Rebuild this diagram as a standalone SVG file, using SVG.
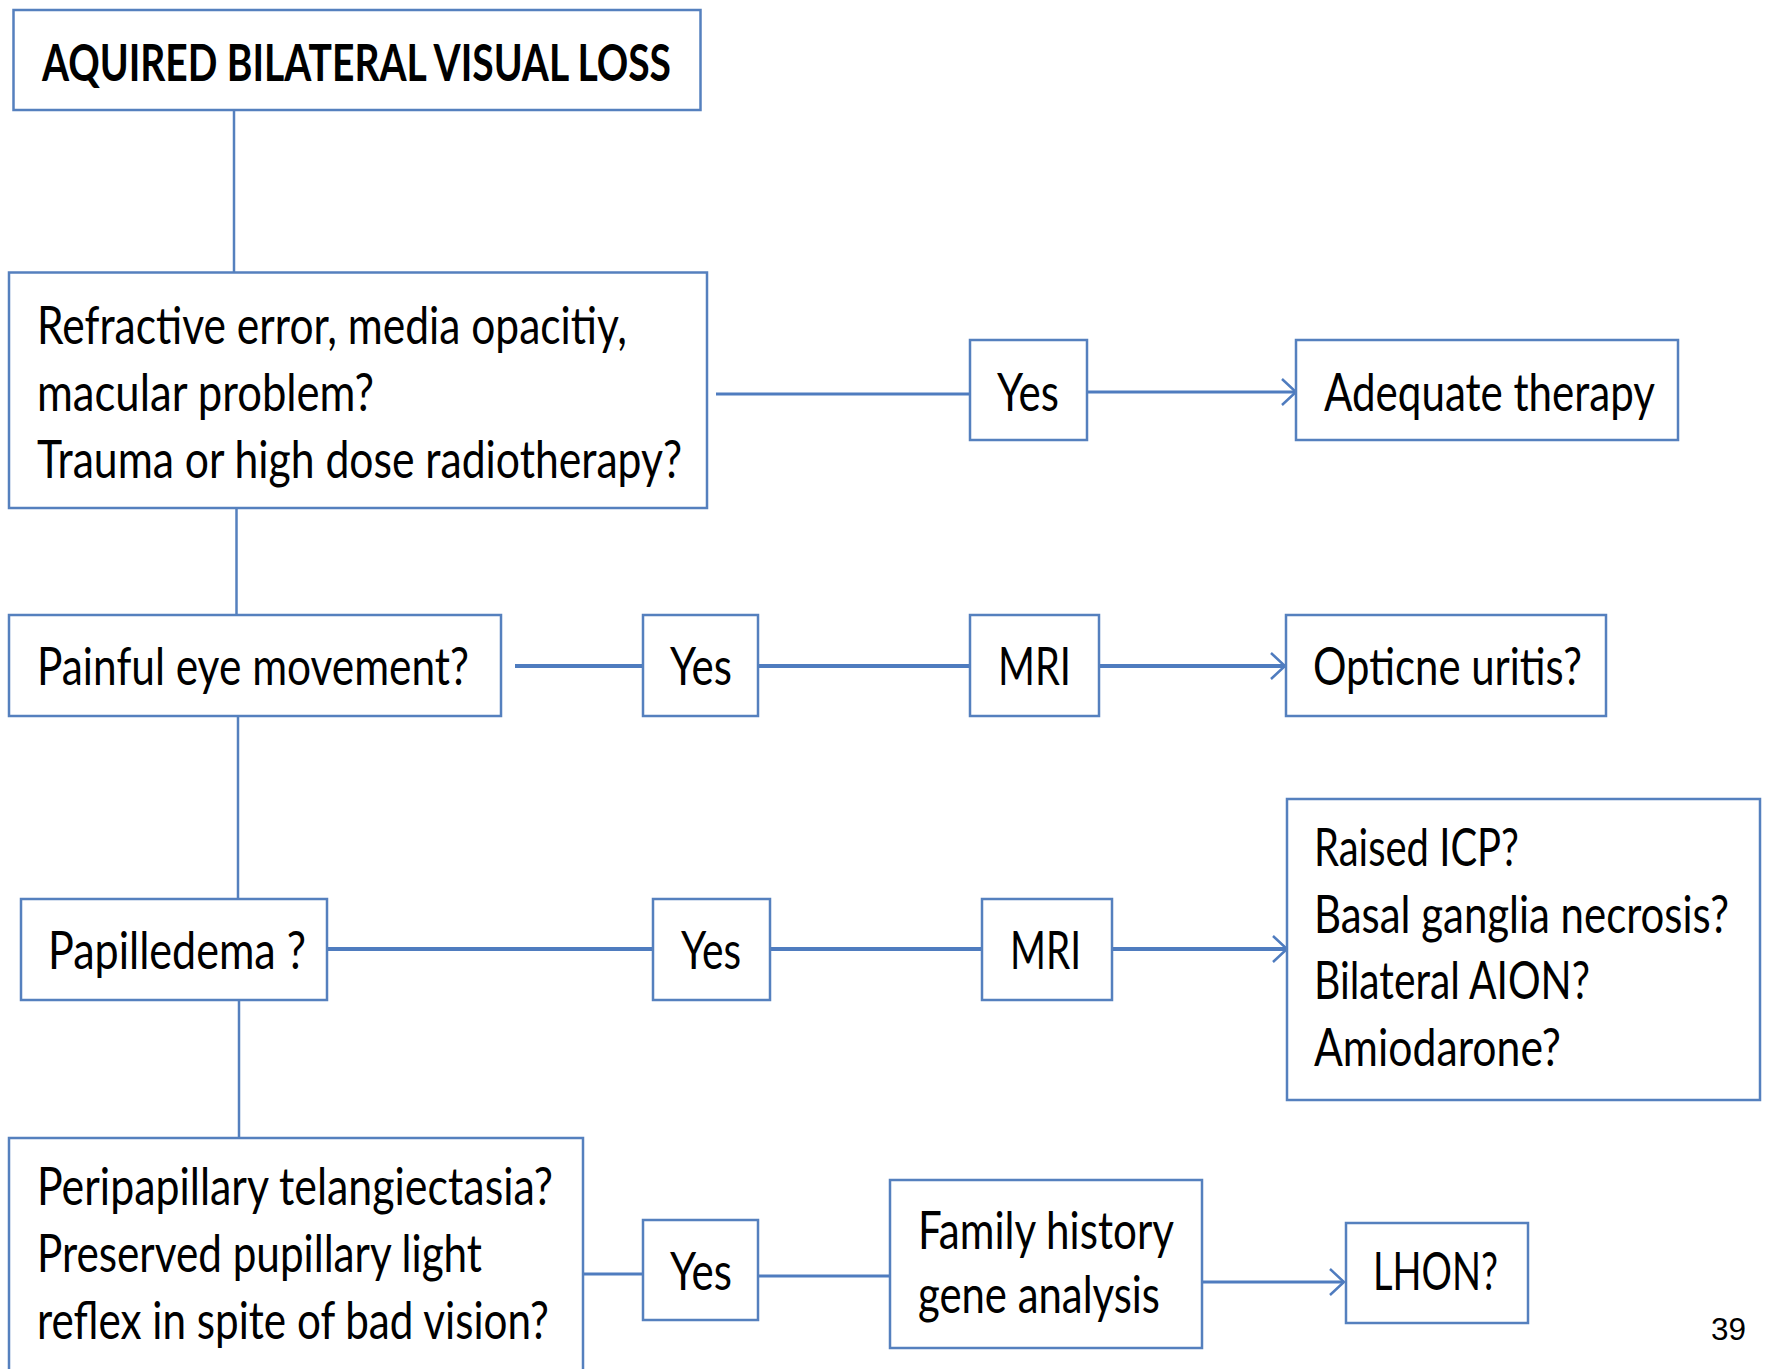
<svg xmlns="http://www.w3.org/2000/svg" width="1766" height="1369" viewBox="0 0 1766 1369">
<style>
.box{fill:#fff;stroke:#5580BE;stroke-width:2.5}
.t{font-family:Lato,"Open Sans","Liberation Sans",sans-serif;font-size:52px;fill:#000}
.b{font-weight:bold}
.v{stroke:#5580BE;stroke-width:2.5;fill:none}
.h{stroke:#4F7CBF;stroke-width:4;fill:none}
.h3{stroke:#4F7CBF;stroke-width:3;fill:none}
.pg{font-family:"Liberation Sans",Arial,sans-serif;font-size:32px;fill:#000}
</style>
<defs>
<marker id="arr" markerWidth="16" markerHeight="28" refX="15" refY="14" orient="auto" markerUnits="userSpaceOnUse">
<path d="M1,1 L15,14 L1,27" fill="none" stroke="#4F7CBF" stroke-width="2.5"/>
</marker>
</defs>
<g id="connectors">
<line class="v" x1="234" y1="110" x2="234" y2="272"/>
<line class="v" x1="236.5" y1="508" x2="236.5" y2="615"/>
<line class="v" x1="238" y1="716" x2="238" y2="899"/>
<line class="v" x1="239" y1="1000" x2="239" y2="1138"/>
<line class="h3" x1="716" y1="394" x2="970" y2="394"/>
<line class="h3" x1="1087" y1="392" x2="1296" y2="392" marker-end="url(#arr)"/>
<line class="h" x1="515" y1="666" x2="643" y2="666"/>
<line class="h" x1="758" y1="666" x2="970" y2="666"/>
<line class="h" x1="1099" y1="666" x2="1285" y2="666" marker-end="url(#arr)"/>
<line class="h" x1="327" y1="949" x2="653" y2="949"/>
<line class="h" x1="770" y1="949" x2="982" y2="949"/>
<line class="h" x1="1112" y1="949" x2="1287" y2="949" marker-end="url(#arr)"/>
<line class="h3" x1="583" y1="1274" x2="643" y2="1274"/>
<line class="h3" x1="758" y1="1276" x2="890" y2="1276"/>
<line class="h3" x1="1202" y1="1282" x2="1344" y2="1282" marker-end="url(#arr)"/>
</g>
<g id="n-title"><rect class="box" x="13.5" y="10" width="687" height="100"/>
<text class="t b" x="42" y="81" textLength="629" lengthAdjust="spacingAndGlyphs">AQUIRED BILATERAL VISUAL LOSS</text></g>
<g id="n-refractive"><rect class="box" x="9" y="272.5" width="698" height="235.5"/>
<text class="t" x="37" y="344" textLength="590" lengthAdjust="spacingAndGlyphs">Refractive error, media opacitiy,</text>
<text class="t" x="37" y="411" textLength="337" lengthAdjust="spacingAndGlyphs">macular problem?</text>
<text class="t" x="37" y="478" textLength="645" lengthAdjust="spacingAndGlyphs">Trauma or high dose radiotherapy?</text></g>
<g id="n-yes1"><rect class="box" x="970" y="340" width="117" height="100"/>
<text class="t" x="997" y="411" textLength="62" lengthAdjust="spacingAndGlyphs">Yes</text></g>
<g id="n-therapy"><rect class="box" x="1296" y="340" width="382" height="100"/>
<text class="t" x="1324" y="411" textLength="331" lengthAdjust="spacingAndGlyphs">Adequate therapy</text></g>
<g id="n-painful"><rect class="box" x="9" y="615" width="492" height="101"/>
<text class="t" x="37" y="685" textLength="432" lengthAdjust="spacingAndGlyphs">Painful eye movement?</text></g>
<g id="n-yes2"><rect class="box" x="643" y="615" width="115" height="101"/>
<text class="t" x="670" y="685" textLength="62" lengthAdjust="spacingAndGlyphs">Yes</text></g>
<g id="n-mri1"><rect class="box" x="970" y="615" width="129" height="101"/>
<text class="t" x="998" y="685" textLength="73" lengthAdjust="spacingAndGlyphs">MRI</text></g>
<g id="n-optic"><rect class="box" x="1286" y="615" width="320" height="101"/>
<text class="t" x="1313" y="685" textLength="269" lengthAdjust="spacingAndGlyphs">Opticne uritis?</text></g>
<g id="n-papilledema"><rect class="box" x="21" y="899" width="306" height="101"/>
<text class="t" x="48" y="969" textLength="258" lengthAdjust="spacingAndGlyphs">Papilledema ?</text></g>
<g id="n-yes3"><rect class="box" x="653" y="899" width="117" height="101"/>
<text class="t" x="681" y="969" textLength="60" lengthAdjust="spacingAndGlyphs">Yes</text></g>
<g id="n-mri2"><rect class="box" x="982" y="899" width="130" height="101"/>
<text class="t" x="1010" y="969" textLength="71" lengthAdjust="spacingAndGlyphs">MRI</text></g>
<g id="n-raised"><rect class="box" x="1287" y="799" width="473" height="301"/>
<text class="t" x="1314" y="866" textLength="205" lengthAdjust="spacingAndGlyphs">Raised ICP?</text>
<text class="t" x="1314" y="933" textLength="415" lengthAdjust="spacingAndGlyphs">Basal ganglia necrosis?</text>
<text class="t" x="1314" y="999" textLength="276" lengthAdjust="spacingAndGlyphs">Bilateral AION?</text>
<text class="t" x="1314" y="1066" textLength="247" lengthAdjust="spacingAndGlyphs">Amiodarone?</text></g>
<g id="n-peripapillary"><rect class="box" x="9" y="1138" width="574" height="260"/>
<text class="t" x="37" y="1205" textLength="516" lengthAdjust="spacingAndGlyphs">Peripapillary telangiectasia?</text>
<text class="t" x="37" y="1272" textLength="445" lengthAdjust="spacingAndGlyphs">Preserved pupillary light</text>
<text class="t" x="37" y="1339" textLength="512" lengthAdjust="spacingAndGlyphs">reflex in spite of bad vision?</text></g>
<g id="n-yes4"><rect class="box" x="643" y="1220" width="115" height="100"/>
<text class="t" x="670" y="1290" textLength="62" lengthAdjust="spacingAndGlyphs">Yes</text></g>
<g id="n-family"><rect class="box" x="890" y="1180" width="312" height="168"/>
<text class="t" x="918" y="1249" textLength="256" lengthAdjust="spacingAndGlyphs">Family history</text>
<text class="t" x="918" y="1313" textLength="242" lengthAdjust="spacingAndGlyphs">gene analysis</text></g>
<g id="n-lhon"><rect class="box" x="1346" y="1223" width="182" height="100"/>
<text class="t" x="1373" y="1290" textLength="125" lengthAdjust="spacingAndGlyphs">LHON?</text></g>
<text class="pg" x="1711" y="1340" textLength="35" lengthAdjust="spacingAndGlyphs">39</text>
</svg>
